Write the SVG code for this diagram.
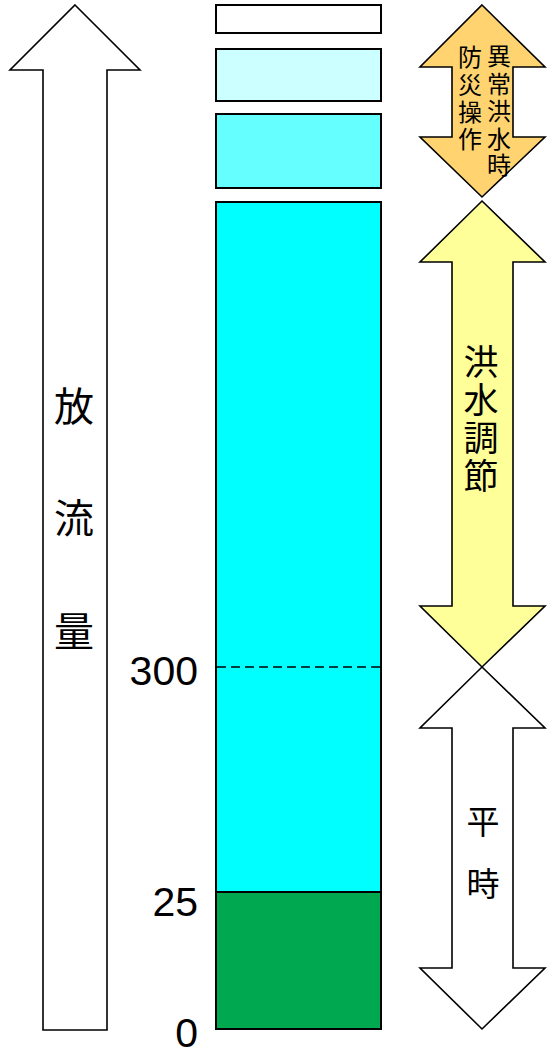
<svg xmlns="http://www.w3.org/2000/svg" width="548" height="1051" viewBox="0 0 548 1051">
<style>
.arr{stroke:#000;stroke-width:1.6;stroke-linejoin:miter}
.box{stroke:#000;stroke-width:2}
.cjk{font-family:"Noto Sans CJK JP","Noto Sans CJK SC",sans-serif;fill:#000;text-anchor:middle;dominant-baseline:central}
.num{font-family:"Liberation Sans",Arial,sans-serif;font-size:41px;fill:#000;text-anchor:end}
</style>
<rect width="548" height="1051" fill="#fff"/>
<g id="flow-arrow">
<polygon class="arr" fill="#fff" points="75,5 140,70 107,70 107,1030 43,1030 43,70 10,70"/>
<text class="cjk" font-size="40"><tspan x="74" y="404">放</tspan><tspan x="74" y="516">流</tspan><tspan x="74" y="629">量</tspan></text>
</g>
<g id="bar">
<rect id="box1" class="box" x="216" y="5" width="165" height="28" fill="#fff"/>
<rect id="box2" class="box" x="216" y="49" width="165" height="52" fill="#CCFFFF"/>
<rect id="box3" class="box" x="216" y="114" width="165" height="74" fill="#66FFFF"/>
<rect id="main" class="box" x="216" y="202" width="165" height="827" fill="#00FFFF"/>
<rect id="green" class="box" x="216" y="892" width="165" height="137" fill="#00A84F"/>
<line x1="217" y1="667" x2="380" y2="667" stroke="#000" stroke-width="1.5" stroke-dasharray="9,5"/>
</g>
<g id="labels">
<text class="num" x="198" y="685">300</text>
<text class="num" x="198" y="916">25</text>
<text class="num" x="198" y="1047">0</text>
</g>
<g id="abnormal">
<polygon class="arr" fill="#FFD470" points="482,5 545,67 513,67 513,137 545,137 482,197 420,137 452,137 452,67 420,67"/>
<text class="cjk" font-size="24"><tspan x="499" y="54">異</tspan><tspan x="499" y="82">常</tspan><tspan x="499" y="109">洪</tspan><tspan x="499" y="137">水</tspan><tspan x="499" y="163">時</tspan></text>
<text class="cjk" font-size="24"><tspan x="470" y="55">防</tspan><tspan x="470" y="83">災</tspan><tspan x="470" y="110">操</tspan><tspan x="470" y="137">作</tspan></text>
</g>
<g id="flood-control">
<polygon class="arr" fill="#FFFF99" points="482,201 545,262 513,262 513,606 545,606 482,667 420,606 452,606 452,262 420,262"/>
<text class="cjk" font-size="35"><tspan x="481" y="359">洪</tspan><tspan x="481" y="397">水</tspan><tspan x="481" y="435">調</tspan><tspan x="481" y="473">節</tspan></text>
</g>
<g id="normal">
<polygon class="arr" fill="#fff" points="482,667 545,728 513,728 513,968 545,968 482,1029 420,968 452,968 452,728 420,728"/>
<text class="cjk" font-size="33"><tspan x="483" y="820">平</tspan><tspan x="483" y="882">時</tspan></text>
</g>
</svg>
